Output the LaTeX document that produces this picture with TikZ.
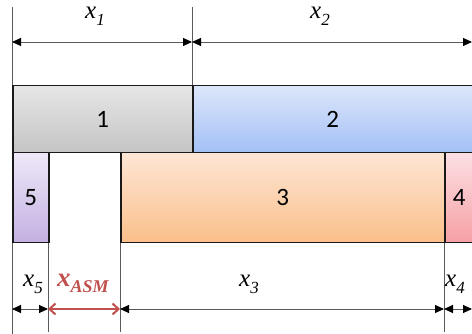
\documentclass[tikz,border=0pt]{standalone}
\usepackage{fontspec}
\setmainfont{Liberation Serif}
\newfontfamily\digitfont{Carlito}
\usetikzlibrary{arrows.meta}
\definecolor{asmred}{RGB}{192,80,77}
\definecolor{g1t}{RGB}{230,230,230}\definecolor{g1b}{RGB}{196,196,196}
\definecolor{g2t}{RGB}{220,230,251}\definecolor{g2b}{RGB}{163,192,245}
\definecolor{g3t}{RGB}{253,230,213}\definecolor{g3b}{RGB}{251,191,138}
\definecolor{g4t}{RGB}{252,224,228}\definecolor{g4b}{RGB}{246,160,164}
\definecolor{g5t}{RGB}{238,232,248}\definecolor{g5b}{RGB}{195,176,226}
\newcommand{\dimlab}[1]{\textit{x}\raisebox{-7pt}{\fontsize{17}{17}\selectfont\textit{#1}}}
\tikzset{
  blk/.style={draw=black!90, line width=1.5pt, inner sep=0pt, anchor=north west,
              font=\digitfont\fontsize{25}{25}\selectfont},
  extline/.style={draw=black!65, line width=0.8pt},
  dimline/.style={draw=black!65, line width=0.9pt, {Triangle[length=9pt,width=8pt,black]}-{Triangle[length=9pt,width=8pt,black]}},
  asmline/.style={draw=asmred, line width=2pt, {Straight Barb[length=6pt,width=11pt]}-{Straight Barb[length=6pt,width=11pt]}},
  lab/.style={anchor=base west, inner sep=0pt, font=\fontsize{25}{25}\selectfont}
}
\begin{document}
\begin{tikzpicture}[x=1pt,y=-1pt]
\useasboundingbox (0,0) rectangle (472,334);
\clip (0,0) rectangle (472,334);
% extension lines
\coordinate (t0a) at (12,7);   \coordinate (t0b) at (12,85);
\coordinate (t1a) at (192,7);  \coordinate (t1b) at (192,85);
\coordinate (b0a) at (12,242); \coordinate (b0b) at (12,334);
\coordinate (b1a) at (48,242); \coordinate (b1b) at (48,332);
\coordinate (b2a) at (120,242);\coordinate (b2b) at (120,332);
\coordinate (b3a) at (444,242);\coordinate (b3b) at (444,332);
\draw[extline] (t0a) -- (t0b);
\draw[extline] (t1a) -- (t1b);
\draw[extline] (b0a) -- (b0b);
\draw[extline] (b1a) -- (b1b);
\draw[extline] (b2a) -- (b2b);
\draw[extline] (b3a) -- (b3b);
% boxes
\node[blk, top color=g1t, bottom color=g1b,
      minimum width=180pt, minimum height=67pt] (n1) at (12,85) {1};
\node[blk, top color=g2t, bottom color=g2b,
      minimum width=300pt, minimum height=67pt, text width=280pt, align=center] (n2) at (192,85) {\hspace*{-20pt}2};
\node[blk, top color=g5t, bottom color=g5b,
      minimum width=36pt, minimum height=90pt] (n5) at (12,152) {5};
\node[blk, top color=g3t, bottom color=g3b,
      minimum width=324pt, minimum height=90pt] (n3) at (120,152) {3};
\node[blk, top color=g4t, bottom color=g4b,
      minimum width=60pt, minimum height=90pt, text width=56pt, align=left] (n4) at (444,152) {\hspace*{6pt}4};
% dimension lines
\coordinate (d1a) at (12,42);  \coordinate (d1b) at (192,42); \coordinate (d1c) at (472,42);
\draw[dimline] (d1a) -- (d1b);
\draw[dimline] (d1b) -- (d1c);
\coordinate (d2a) at (12,309); \coordinate (d2b) at (48,309); \coordinate (d2c) at (120,309);
\coordinate (d2d) at (444,309); \coordinate (d2e) at (472,309);
\draw[dimline] (d2a) -- (d2b);
\draw[asmline] (d2b) -- (d2c);
\draw[dimline] (d2c) -- (d2d);
\draw[dimline] (d2d) -- (d2e);
% labels
\node[lab] (l1) at (85,19) {\dimlab{1}};
\node[lab] (l2) at (310,19) {\dimlab{2}};
\node[lab] (l5) at (23,287) {\dimlab{5}};
\node[lab, text=asmred, font=\bfseries\fontsize{27}{27}\selectfont] (lasm) at (57,287)
  {\textit{x}\raisebox{-6pt}{\fontsize{18}{18}\selectfont\textit{ASM}}};
\node[lab] (l3) at (239,287) {\dimlab{3}};
\node[lab] (l4) at (445,287) {\dimlab{4}};
\end{tikzpicture}
\end{document}
